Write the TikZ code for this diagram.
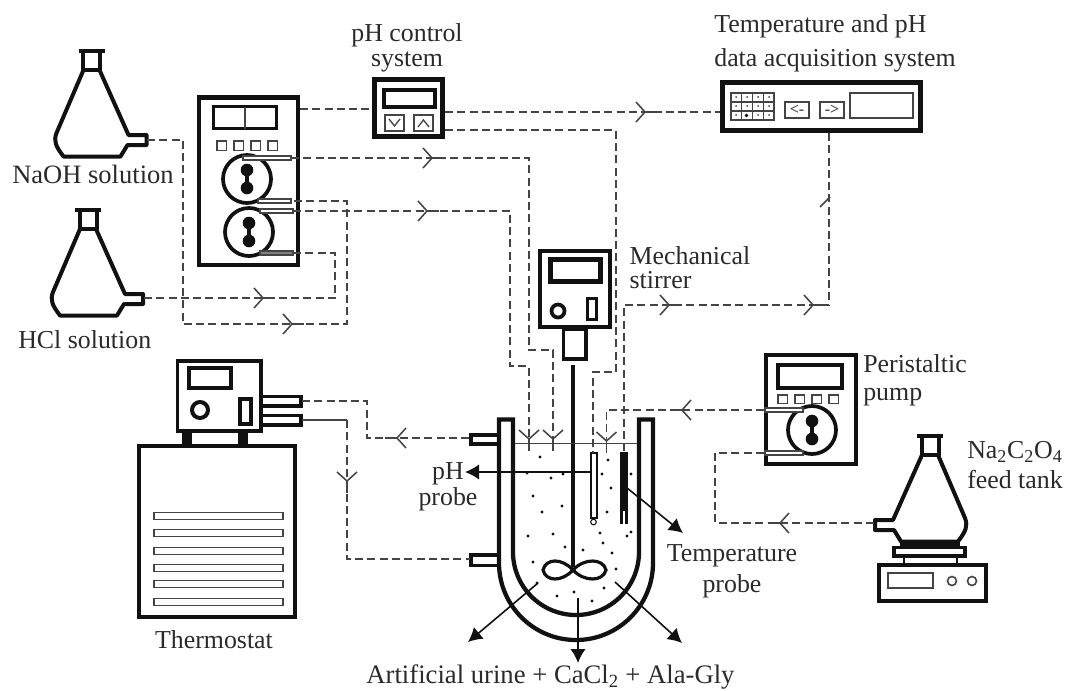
\documentclass[tikz,border=0pt]{standalone}
\usepackage{fontspec}
\setmainfont{Liberation Serif}
\usetikzlibrary{arrows.meta}
\definecolor{ink}{HTML}{111111}
\definecolor{txt}{HTML}{2A2A2A}
\definecolor{wirecol}{HTML}{444444}
\tikzset{
  lbl/.style={inner sep=0pt,text=txt,font=\fontsize{19.4}{#1}\selectfont},
  lbl/.default=19,
  wire/.style={draw=wirecol,line width=1.15pt,dash pattern=on 6pt off 3.2pt,line cap=butt},
  solidline/.style={draw=wirecol,line width=1.15pt},
  heavy/.style={draw=ink,line width=3.6pt,line join=miter},
  medium/.style={draw=ink,line width=2.6pt},
  thinline/.style={draw=wirecol,line width=.9pt},
  feat/.style={draw=ink,line width=1.2pt,-{Latex[length=10.5pt,width=11.5pt]}},
  pics/chev/.style={code={
    \draw[wirecol,line width=1.15pt] (-9,-10) -- (0,0) -- (-9,10);
    \draw[wirecol,line width=1.15pt] (0,0) -- (12,0);
  }},
  pics/flask/.style={code={
    \draw[ink,line width=3pt,line join=round]
      (-8.5,0) -- (-8.5,19) -- (8.5,19) -- (8.5,0);
    \draw[ink,line width=3.2pt] (-13,0) -- (13,0);
    \draw[ink,line width=3pt,line join=round]
      (-8,19) -- (-35,82) .. controls (-38,90) and (-36,95) .. (-28,105.5)
      -- (29,105.5) -- (36,94) -- (55,94) -- (55,84) -- (37,84) -- (8,19);
  }},
  pics/rotor/.style={code={
    \draw[ink,line width=2.8pt] (0,0) circle (24);
    \draw[ink,line width=3pt] (0,-9) -- (0,9);
    \fill[ink] (0,-9) circle (6.3) (0,9) circle (6.3);
  }},
  tube/.style={draw=wirecol,line width=.9pt,fill=white},
}
\begin{document}
\begin{tikzpicture}[x=0.75pt,y=-0.75pt]
\useasboundingbox (0,0) rectangle (1065,690);

% ---------- flasks
\pic at (91.5,51) {flask};
\pic at (88,210) {flask};
\pic[xscale=-1] at (930,436) {flask};

% ---------- double pump
\draw[heavy] (199,97.5) rectangle (298,265);
\draw[medium] (213.5,106.5) rectangle (276.5,128.5);
\draw[thinline] (245,106.5) -- (245,128.5);
\foreach \xx in {217,234,251,268}
  \draw[draw=wirecol,line width=1.1pt] (\xx,141) rectangle ++(9.5,9.5);
\pic at (247,179) {rotor};
\pic at (249,232) {rotor};
\draw[tube] (243,156) rectangle (291,160);
\draw[tube] (258,199) rectangle (291,203);
\draw[tube] (260,209) rectangle (293,213);
\draw[tube,fill=gray] (260,251) rectangle (293,255);

% ---------- pH controller
\draw[draw=ink,line width=3.6pt] (374.5,79.5) rectangle (442.5,136.5);
\draw[draw=ink,line width=3.2pt] (384,90) rectangle (435,107);
\draw[draw=wirecol,line width=1.3pt] (385,115) rectangle (404,131);
\draw[draw=wirecol,line width=1.3pt] (414,115) rectangle (433,131);
\draw[draw=wirecol,line width=1pt] (389,119) -- (394.5,126) -- (400,119);
\draw[draw=wirecol,line width=1pt] (418,127) -- (423.5,120) -- (429,127);

% ---------- acquisition system
\draw[draw=ink,line width=3.8pt] (722.5,82.5) rectangle (920.5,130.5);
\draw[draw=wirecol,line width=1pt] (731,93) rectangle (774,120);
\foreach \xx in {741.75,752.5,763.25} \draw[draw=wirecol,line width=1pt] (\xx,93) -- (\xx,120);
\foreach \yy in {102,111} \draw[draw=wirecol,line width=1pt] (731,\yy) -- (774,\yy);
\foreach \xx/\yy in {736/97,747/97,758/97,769/97,736/106,747/106,758/106,769/106,736/115,758/115,769/115}
  \fill[wirecol] (\xx,\yy) circle (1);
\fill[ink] (746.5,115.5) circle (1.8);
\draw[draw=wirecol,line width=1.4pt] (785,102) rectangle (809,118);
\draw[draw=wirecol,line width=1.4pt] (820,102) rectangle (844,118);
\node[inner sep=0pt,text=wirecol,font=\fontsize{12}{12}\selectfont\bfseries] (btnl) at (797,110) {<-};
\node[inner sep=0pt,text=wirecol,font=\fontsize{12}{12}\selectfont\bfseries] (btnr) at (832,110) {->};
\draw[draw=wirecol,line width=1.4pt] (850,93) rectangle (913,118);

% ---------- mechanical stirrer
\draw[draw=ink,line width=3.4pt] (540,251) rectangle (610,327);
\draw[draw=ink,line width=3.2pt] (550.5,259.5) rectangle (600.5,281.5);
\draw[draw=ink,line width=2.8pt] (558,311) circle (6.5);
\draw[draw=ink,line width=2.8pt] (587.5,298.5) rectangle (596.5,319.5);
\draw[draw=ink,line width=2.6pt] (563.5,329) rectangle (586,359);
\draw[draw=ink,line width=3pt] (573,365) -- (573,567);
\draw[draw=ink,line width=2.4pt] (573,570) .. controls (562,558) and (546,558) .. (543,570)
   .. controls (546,582) and (562,582) .. (573,570)
   .. controls (584,558) and (603,558) .. (606,570)
   .. controls (603,582) and (584,582) .. (573,570);

% ---------- reactor
\draw[draw=ink,line width=3.2pt,line join=miter]
  (513,552) -- (513,419.5) -- (499,419.5) -- (499,563)
  arc[start angle=180,end angle=0,radius=77] -- (653,419.5) -- (639,419.5) -- (639,552)
  arc[start angle=0,end angle=180,radius=63];
\draw[draw=ink,line width=2.4pt] (497,435) -- (471,435) -- (471,444) -- (497,444);
\draw[draw=ink,line width=2.4pt] (497,555) -- (471,555) -- (471,565.5) -- (497,565.5);
\draw[draw=wirecol,line width=1.2pt] (515,443.5) -- (637,443.5);

\foreach \xx/\yy in {540/457,527/473,551/478,563/474,533/496,542/512,562/506,528/536,553/534,565/547,583/550,533/562,537/583,557/596,574/592,592/601,604/588,616/569,612/553,603/543,600/533,627/536,631/532,607/512,611/488,602/474,608/460,631/474}
  \fill[ink] (\xx,\yy) circle (1.7);

% probes
\draw[draw=ink,line width=1.4pt,fill=white] (591,453) rectangle (597,518);
\draw[draw=ink,line width=.8pt,fill=white] (593.5,522) circle (2.8);
\fill[ink] (620,452) rectangle (628,511);
\fill[ink] (620,511) rectangle (623,524);
\fill[ink] (625,511) rectangle (628,524);

% ---------- thermostat
\draw[draw=ink,line width=2.6pt] (177.5,361) rectangle (261,431);
\draw[draw=ink,line width=3pt] (188.5,368) rectangle (231,388);
\draw[draw=ink,line width=3pt] (200,410) circle (8);
\draw[draw=ink,line width=2.6pt] (240,399) rectangle (251,424);
\fill[ink] (182,432) rectangle (192,445);
\fill[ink] (238,432) rectangle (248,445);
\draw[draw=ink,line width=3.2pt] (139,446) rectangle (295,617);
\foreach \yy in {516,533,551,568,584,602}
  \draw[draw=wirecol,line width=1.2pt] (154,\yy-3.5) rectangle (283,\yy+3.5);
\draw[draw=ink,line width=2.4pt] (262,396.5) -- (301,396.5) -- (301,406) -- (262,406);
\draw[draw=ink,line width=2.4pt] (262,415.5) -- (301,415.5) -- (301,425) -- (262,425);

% ---------- peristaltic pump
\draw[draw=ink,line width=3pt] (765.5,354.5) rectangle (855.5,463.5);
\draw[draw=ink,line width=3pt] (778,364.5) rectangle (842,387.5);
\foreach \xx in {778,795,812,829}
  \draw[draw=wirecol,line width=1.2pt] (\xx,395) rectangle ++(9.5,8.5);
\pic at (812,430) {rotor};
\draw[tube] (765,408) rectangle (803,412);
\draw[tube] (765,451) rectangle (803,455);

% ---------- stirring plate
\fill[ink] (900,542) rectangle (960,546);
\draw[draw=ink,line width=2.6pt] (894,547.5) rectangle (965,556);
\draw[draw=ink,line width=1.8pt] (904,557) -- (904,563) (957,557) -- (957,563);
\draw[draw=ink,line width=3pt] (878.5,564.5) rectangle (986,601);
\draw[draw=wirecol,line width=1.4pt] (888,573) rectangle (933,588);
\draw[draw=wirecol,line width=1.2pt] (952,581) circle (4.5);
\draw[draw=wirecol,line width=1.2pt] (972,581) circle (4.5);

% ---------- named ends of connectors
\coordinate (naoharm) at (147,140);
\coordinate (hclarm) at (144,298);
\coordinate (tubeA) at (291,158);
\coordinate (tubeB) at (291,201);
\coordinate (tubeC) at (293,211);
\coordinate (tubeD) at (293,253);
\coordinate (pumpout) at (300,109);
\coordinate (ctrlin) at (372,109);
\coordinate (ctrlA) at (445,112);
\coordinate (ctrlB) at (445,130);
\coordinate (daqin) at (720,112);
\coordinate (daqout) at (829,133);
\coordinate (inA) at (529,439);
\coordinate (inB) at (553,439);
\coordinate (inC) at (606.5,441);
\coordinate (phtop) at (593,453);
\coordinate (temptop) at (624,452);
\coordinate (ppA) at (764,410);
\coordinate (ppB) at (764,453);
\coordinate (feedarm) at (875,523);
\coordinate (thA) at (302,401);
\coordinate (thB) at (302,420);
\coordinate (jacA) at (470,438);
\coordinate (jacB) at (470,559);

% ---------- connectors
\draw[wire] (naoharm) -- (183,140) -- (183,324) -- (347,324) -- (347,201) -- (tubeB);
\draw[wire] (hclarm) -- (335,298) -- (335,253) -- (tubeD);
\draw[wire] (pumpout) -- (ctrlin);
\draw[wire] (tubeA) -- (529,158) -- (529,350) -- (553,350) -- (inB);
\draw[wire] (tubeC) -- (510,211) -- (510,366) -- (529,366) -- (inA);
\draw[wire] (ctrlA) -- (daqin);
\draw[wire] (ctrlB) -- (616,130) -- (616,372) -- (593,372) -- (phtop);
\draw[wire] (daqout) -- (829,305) -- (624,305) -- (temptop);
\draw[wire] (ppA) -- (606.5,410) -- (inC);
\draw[wire] (ppB) -- (715,453) -- (715,523) -- (feedarm);
\draw[wire] (thA) -- (367,401) -- (367,438) -- (jacA);
\draw[solidline] (thB) -- (347,420);
\draw[wire] (347,420) -- (347,559) -- (jacB);

% ---------- chevrons
\pic at (292,324) {chev};
\pic at (263,298) {chev};
\pic at (432,158) {chev};
\pic at (427,211) {chev};
\pic at (645,112) {chev};
\pic at (813,305) {chev};
\pic at (669,305) {chev};
\pic[rotate=180] at (397,438) {chev};
\pic[rotate=180] at (682,410) {chev};
\pic[rotate=180] at (780,523) {chev};
\pic[rotate=-90] at (347,481) {chev};
\pic[rotate=-90] at (inA) {chev};
\pic[rotate=-90] at (inB) {chev};
\pic[rotate=-90] at (inC) {chev};
\draw[wirecol,line width=1.1pt] (820,207) -- (830,197);

% ---------- feature arrows
\coordinate (pHfrom) at (591,472);
\coordinate (pHto) at (465,472);
\coordinate (Tfrom) at (627,488);
\coordinate (Tto) at (683,533);
\coordinate (lfrom) at (538,583);
\coordinate (lto) at (468,642);
\coordinate (mfrom) at (578,598);
\coordinate (mto) at (578,663);
\coordinate (rfrom) at (615,582);
\coordinate (rto) at (682,643);
\draw[feat] (pHfrom) -- (pHto);
\draw[feat] (Tfrom) -- (Tto);
\draw[feat] (lfrom) -- (lto);
\draw[feat] (mfrom) -- (mto);
\draw[feat] (rfrom) -- (rto);

% ---------- labels
\node[lbl,font=\fontsize{19.9}{19}\selectfont,anchor=base west] (tNaOH) at (12,183) {NaOH solution};
\node[lbl,anchor=base west] (tHCl) at (18,348) {HCl solution};
\node[lbl=18.7,align=center] (tctrl) at (407,48) {pH control\\system};
\node[lbl=25.5,align=left] (tdaq) at (835,43) {Temperature and pH\\data acquisition system};
\node[lbl=18,align=left] (tstir) at (690,267.5) {Mechanical\\stirrer};
\node[lbl=21,align=left] (tpp) at (915,380) {Peristaltic\\pump};
\node[lbl=22.5,align=left] (tfeed) at (1015,465) {Na\textsubscript{2}C\textsubscript{2}O\textsubscript{4}\\feed tank};
\node[lbl=19.5,align=center] (tph) at (448,487) {pH\\probe};
\node[lbl=23.5,align=center] (ttemp) at (732,571.5) {Temperature\\probe};
\node[lbl,anchor=base] (tth) at (214,648) {Thermostat};
\node[lbl,font=\fontsize{20}{19}\selectfont,anchor=base] (tart) at (550.5,683.5) {Artificial urine + CaCl\textsubscript{2} + Ala-Gly};
\end{tikzpicture}
\end{document}
